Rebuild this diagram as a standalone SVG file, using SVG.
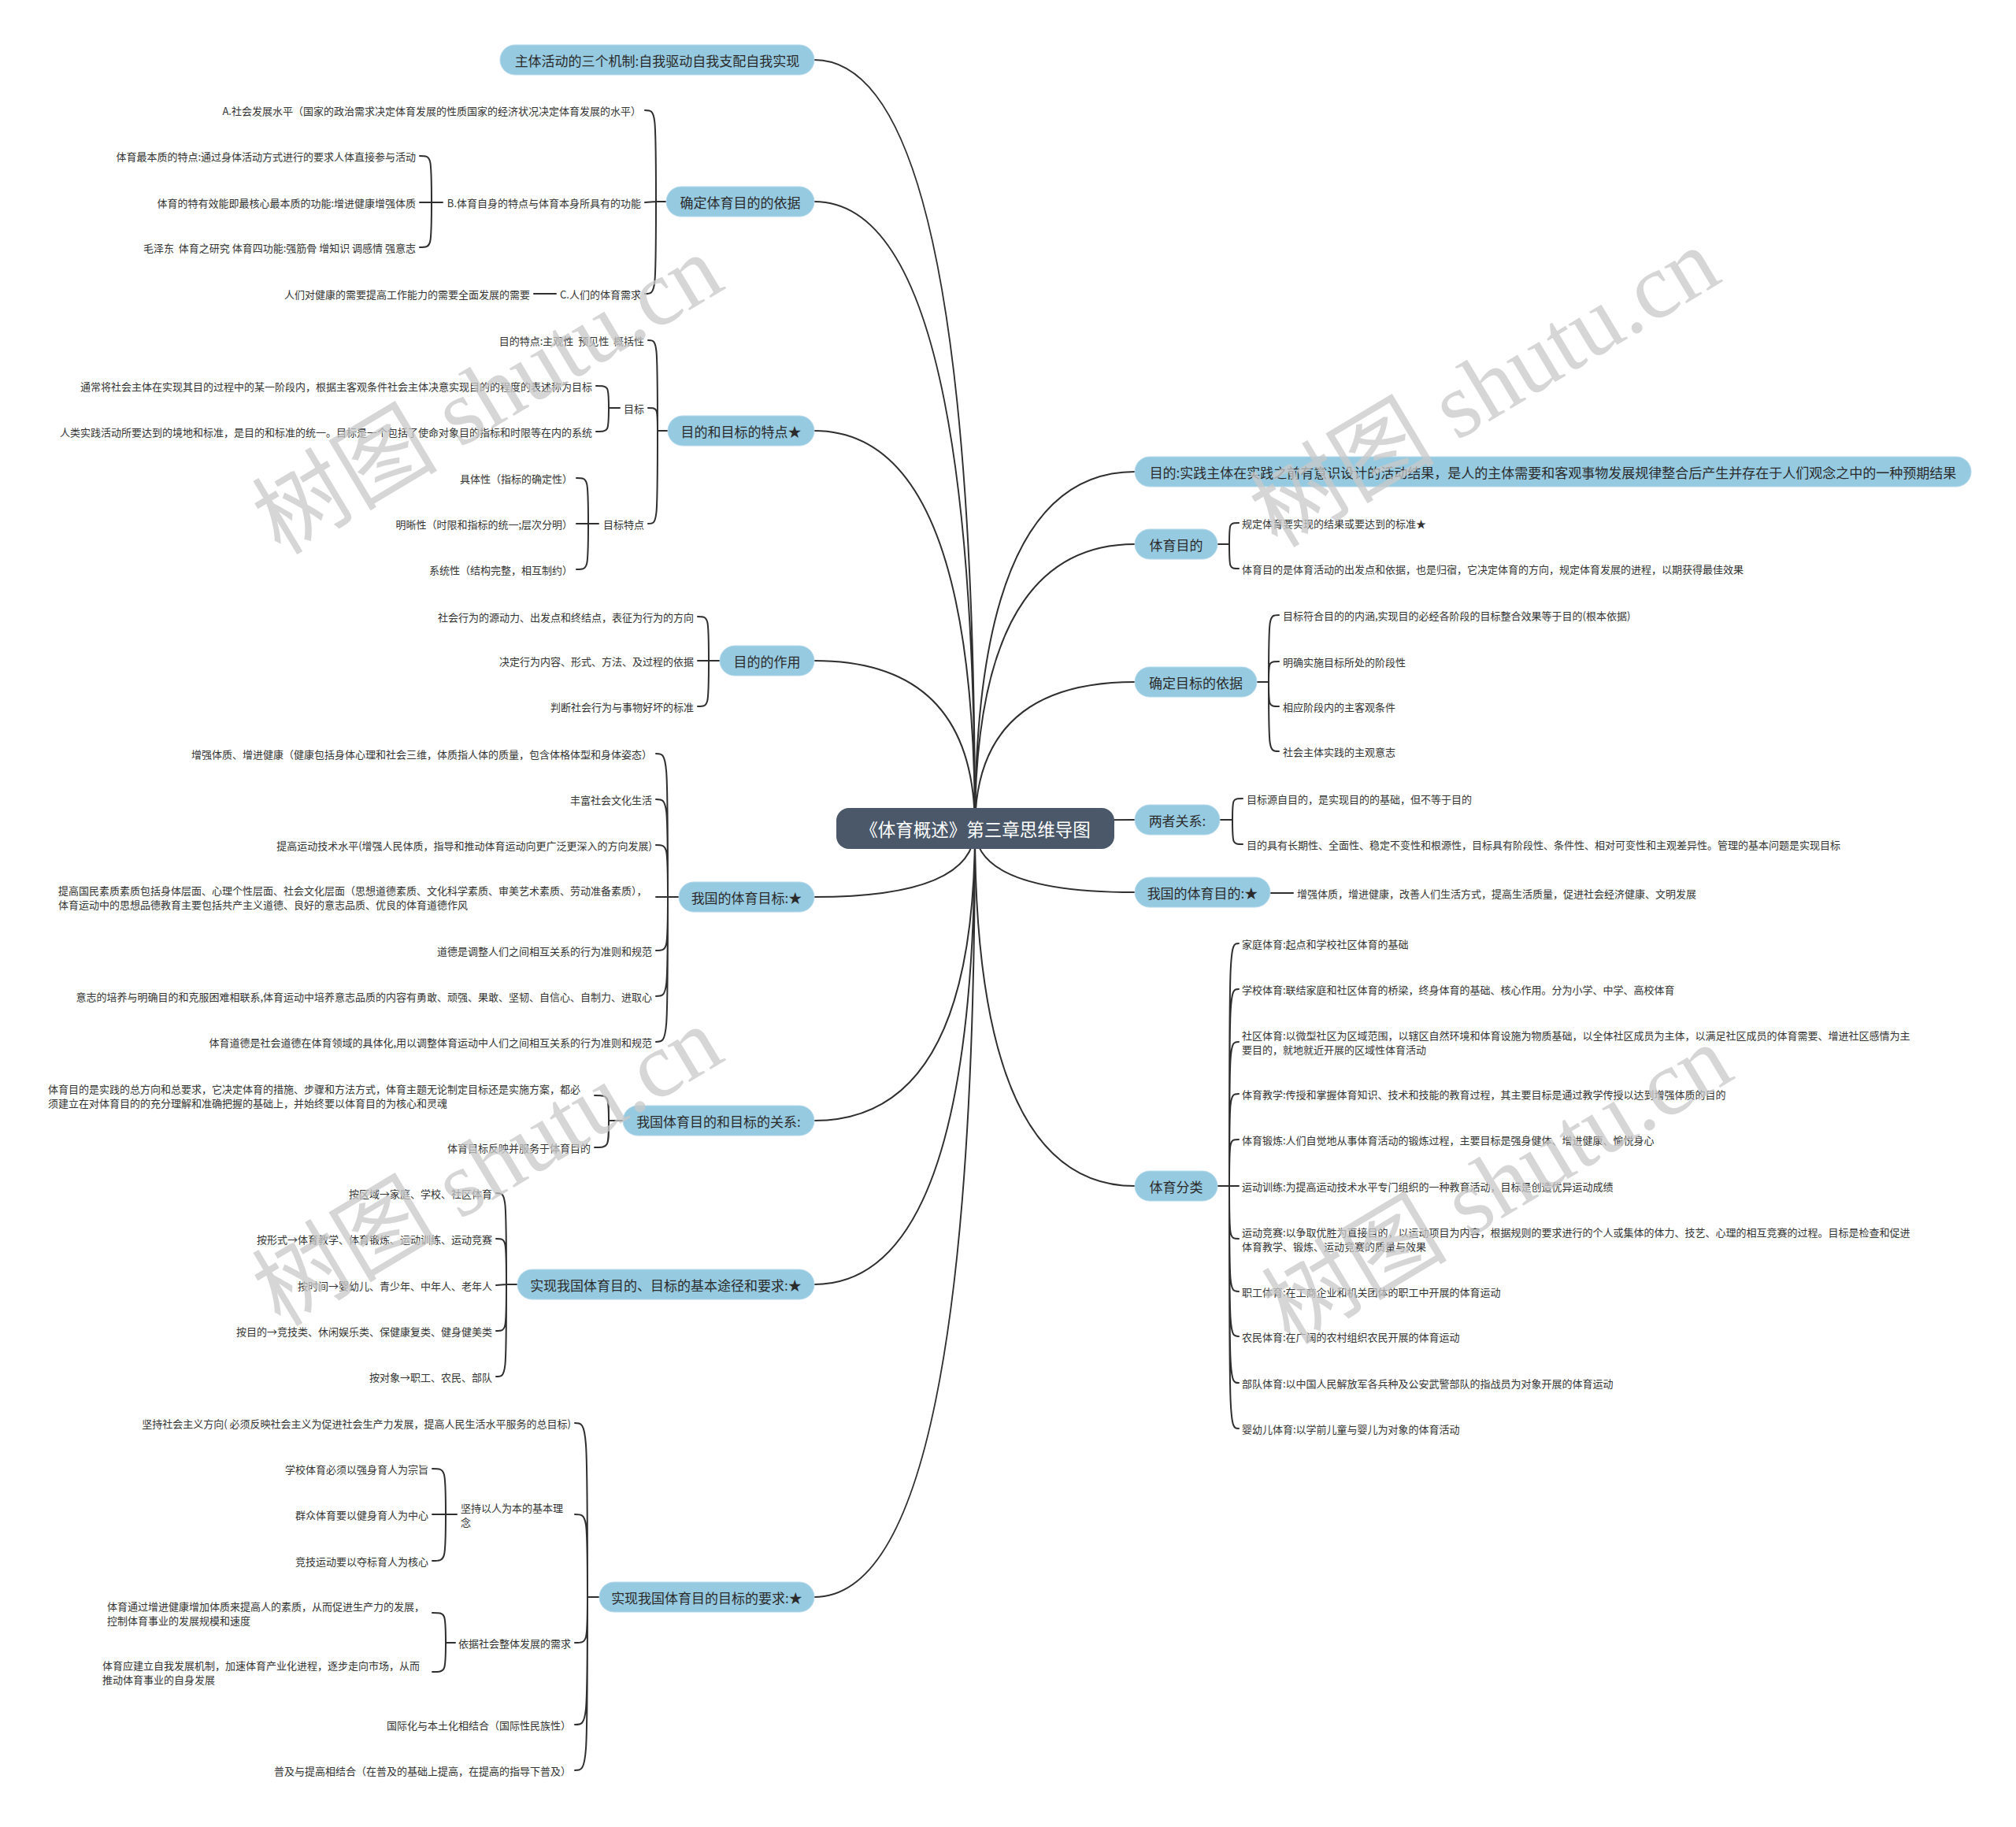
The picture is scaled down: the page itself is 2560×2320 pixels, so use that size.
<svg xmlns="http://www.w3.org/2000/svg" width="2560" height="2320" viewBox="0 0 2560 2320">
<style>
.c{fill:none;stroke:#2f2f2f;stroke-width:2;stroke-linecap:round}
.b rect{fill:#96cae1;stroke:#b3d9ea;stroke-width:1}
.b text{font-family:"Noto Sans CJK SC","Noto Sans",sans-serif;font-size:17px;fill:#2b2b2b;text-anchor:middle;dominant-baseline:central}
.r rect{fill:#4a5869}
.r text{font-family:"Noto Sans CJK SC","Noto Sans",sans-serif;font-size:22.5px;fill:#ffffff;text-anchor:middle;dominant-baseline:central}
.t{font-family:"Noto Sans CJK SC","Noto Sans",sans-serif;font-size:13px;fill:#333333;dominant-baseline:central}
.e{text-anchor:end}
.wm{font-family:"Liberation Serif","Noto Sans CJK SC",serif;font-size:118px;fill:#c9c9c9;opacity:.75}
</style>
<rect width="2560" height="2320" fill="#ffffff"/>
<g id="connectors">
<path class="c" d="M1238 1052Q1238 76 1034 76M1238 1052Q1238 256 1034 256M1238 1052Q1238 547 1034 547M1238 1052Q1238 839 1034 839M1238 1052Q1238 1139 1034 1139M1238 1052Q1238 1423 1034 1423M1238 1052Q1238 1631 1034 1631M1238 1052Q1238 2028 1034 2028"/>
<path class="c" d="M1238 1052Q1238 599 1441 599M1238 1052Q1238 691 1441 691M1238 1052Q1238 866 1441 866M1238 1052Q1238 1041 1441 1041M1238 1052Q1238 1133 1441 1133M1238 1052Q1238 1506 1441 1506"/>
<path class="c" d="M846 256H833M833 256C833 140 833 140 819 140M833 256L819 257M833 256C833 373 833 373 819 373"/>
<path class="c" d="M562 257H548M548 257C548 198 548 198 533 198M548 257H533M548 257C548 314 548 314 533 314M706 373H678"/>
<path class="c" d="M848 547H835M835 547C835 432 835 432 823 432M835 547C835 518 835 518 823 518M835 547C835 665 835 665 823 665"/>
<path class="c" d="M787 518H773M773 518C773 490 773 490 757 490M773 518C773 548 773 548 757 548"/>
<path class="c" d="M760 665H747M747 665C747 607 747 607 732 607M747 665H732M747 665C747 723 747 723 732 723"/>
<path class="c" d="M914 839H900M900 839C900 783 900 783 886 783M900 839H886M900 839C900 897 900 897 886 897"/>
<path class="c" d="M862 1139H848M848 1139C848 957 848 957 833 957M848 1139C848 1015 848 1015 833 1015M848 1139C848 1073 848 1073 833 1073M848 1139H833M848 1139C848 1207 848 1207 833 1207M848 1139C848 1265 848 1265 833 1265M848 1139C848 1323 848 1323 833 1323"/>
<path class="c" d="M791 1423H773M773 1423C773 1391 773 1391 755 1391M773 1423C773 1457 773 1457 755 1457"/>
<path class="c" d="M657 1631H643M643 1631C643 1515 643 1515 630 1515M643 1631C643 1573 643 1573 630 1573M643 1631L630 1632M643 1631C643 1690 643 1690 630 1690M643 1631C643 1748 643 1748 630 1748"/>
<path class="c" d="M761 2028H746M746 2028C746 1807 746 1807 730 1807M746 2028C746 1923 746 1923 730 1923M746 2028C746 2086 746 2086 730 2086M746 2028C746 2190 746 2190 730 2190M746 2028C746 2248 746 2248 730 2248"/>
<path class="c" d="M580 1923H566M566 1923C566 1865 566 1865 549 1865M566 1923H549M566 1923C566 1982 566 1982 549 1982"/>
<path class="c" d="M578 2086H566M566 2086C566 2048 566 2048 549 2048M566 2086C566 2123 566 2123 549 2123"/>
<path class="c" d="M1546 691H1561M1561 691C1561 664 1561 664 1573 664M1561 691C1561 722 1561 722 1573 722"/>
<path class="c" d="M1596 866H1611M1611 866C1611 781 1611 781 1624 781M1611 866C1611 840 1611 840 1624 840M1611 866C1611 897 1611 897 1624 897M1611 866C1611 954 1611 954 1624 954"/>
<path class="c" d="M1549 1041H1565M1565 1041C1565 1014 1565 1014 1578 1014M1565 1041C1565 1072 1565 1072 1578 1072"/>
<path class="c" d="M1613 1134H1642"/>
<path class="c" d="M1546 1506H1561M1561 1506C1561 1198 1561 1198 1573 1198M1561 1506C1561 1256 1561 1256 1573 1256M1561 1506C1561 1323 1561 1323 1573 1323M1561 1506C1561 1389 1561 1389 1573 1389M1561 1506C1561 1447 1561 1447 1573 1447M1561 1506H1573M1561 1506C1561 1573 1561 1573 1573 1573M1561 1506C1561 1640 1561 1640 1573 1640M1561 1506C1561 1697 1561 1697 1573 1697M1561 1506C1561 1756 1561 1756 1573 1756M1561 1506C1561 1814 1561 1814 1573 1814"/>
</g>
<g id="root" class="r"><rect x="1062" y="1026" width="353" height="52" rx="16"/><text x="1238.5" y="1052">《体育概述》第三章思维导图</text></g>
<g id="n-l1" class="b"><rect x="635" y="57" width="399" height="38" rx="19"/><text x="834.5" y="76">主体活动的三个机制:自我驱动自我支配自我实现</text></g>
<g id="n-l2" class="b"><rect x="846" y="237" width="188" height="38" rx="19"/><text x="940" y="256">确定体育目的的依据</text></g>
<g id="n-l3" class="b"><rect x="848" y="528" width="186" height="38" rx="19"/><text x="941" y="547">目的和目标的特点★</text></g>
<g id="n-l4" class="b"><rect x="914" y="820" width="120" height="38" rx="19"/><text x="974" y="839">目的的作用</text></g>
<g id="n-l5" class="b"><rect x="862" y="1120" width="172" height="38" rx="19"/><text x="948" y="1139">我国的体育目标:★</text></g>
<g id="n-l6" class="b"><rect x="791" y="1404" width="243" height="38" rx="19"/><text x="912.5" y="1423">我国体育目的和目标的关系:</text></g>
<g id="n-l7" class="b"><rect x="657" y="1612" width="377" height="38" rx="19"/><text x="845.5" y="1631">实现我国体育目的、目标的基本途径和要求:★</text></g>
<g id="n-l8" class="b"><rect x="761" y="2009" width="273" height="38" rx="19"/><text x="897.5" y="2028">实现我国体育目的目标的要求:★</text></g>
<g id="n-r1" class="b"><rect x="1441" y="580" width="1062" height="38" rx="19"/><text x="1972" y="599">目的:实践主体在实践之前有意识设计的活动结果，是人的主体需要和客观事物发展规律整合后产生并存在于人们观念之中的一种预期结果</text></g>
<g id="n-r2" class="b"><rect x="1441" y="672" width="105" height="38" rx="19"/><text x="1493.5" y="691">体育目的</text></g>
<g id="n-r3" class="b"><rect x="1441" y="847" width="155" height="38" rx="19"/><text x="1518.5" y="866">确定目标的依据</text></g>
<g id="n-r4" class="b"><rect x="1441" y="1022" width="108" height="38" rx="19"/><text x="1495" y="1041">两者关系:</text></g>
<g id="n-r5" class="b"><rect x="1441" y="1114" width="172" height="38" rx="19"/><text x="1527" y="1133">我国的体育目的:★</text></g>
<g id="n-r6" class="b"><rect x="1441" y="1487" width="105" height="38" rx="19"/><text x="1493.5" y="1506">体育分类</text></g>
<g id="t-l2a"><text class="t e" x="814" y="140">A.社会发展水平（国家的政治需求决定体育发展的性质国家的经济状况决定体育发展的水平）</text></g>
<g id="t-l2b"><text class="t e" x="814" y="257">B.体育自身的特点与体育本身所具有的功能</text></g>
<g id="t-l2b1"><text class="t e" x="528" y="198">体育最本质的特点:通过身体活动方式进行的要求人体直接参与活动</text></g>
<g id="t-l2b2"><text class="t e" x="528" y="257">体育的特有效能即最核心最本质的功能:增进健康增强体质</text></g>
<g id="t-l2b3"><text class="t e" x="528" y="314" xml:space="preserve">毛泽东  体育之研究 体育四功能:强筋骨 增知识 调感情 强意志</text></g>
<g id="t-l2c"><text class="t e" x="814" y="373">C.人们的体育需求</text></g>
<g id="t-l2c1"><text class="t e" x="673" y="373">人们对健康的需要提高工作能力的需要全面发展的需要</text></g>
<g id="t-l3a"><text class="t e" x="818" y="432" xml:space="preserve">目的特点:主观性  预见性  概括性</text></g>
<g id="t-l3b"><text class="t e" x="818" y="518">目标</text></g>
<g id="t-l3b1"><text class="t e" x="752" y="490">通常将社会主体在实现其目的过程中的某一阶段内，根据主客观条件社会主体决意实现目的的程度的表述称为目标</text></g>
<g id="t-l3b2"><text class="t e" x="752" y="548">人类实践活动所要达到的境地和标准，是目的和标准的统一。目标是一个包括了使命对象目的指标和时限等在内的系统</text></g>
<g id="t-l3c"><text class="t e" x="818" y="665">目标特点</text></g>
<g id="t-l3c1"><text class="t e" x="727" y="607">具体性（指标的确定性）</text></g>
<g id="t-l3c2"><text class="t e" x="727" y="665">明晰性（时限和指标的统一;层次分明）</text></g>
<g id="t-l3c3"><text class="t e" x="727" y="723">系统性（结构完整，相互制约）</text></g>
<g id="t-l4a"><text class="t e" x="881" y="783">社会行为的源动力、出发点和终结点，表征为行为的方向</text></g>
<g id="t-l4b"><text class="t e" x="881" y="839">决定行为内容、形式、方法、及过程的依据</text></g>
<g id="t-l4c"><text class="t e" x="881" y="897">判断社会行为与事物好坏的标准</text></g>
<g id="t-l5a"><text class="t e" x="828" y="957">增强体质、增进健康（健康包括身体心理和社会三维，体质指人体的质量，包含体格体型和身体姿态）</text></g>
<g id="t-l5b"><text class="t e" x="828" y="1015">丰富社会文化生活</text></g>
<g id="t-l5c"><text class="t e" x="828" y="1073">提高运动技术水平(增强人民体质，指导和推动体育运动向更广泛更深入的方向发展)</text></g>
<g id="t-l5d"><text class="t" x="74" y="1130">提高国民素质素质包括身体层面、心理个性层面、社会文化层面（思想道德素质、文化科学素质、审美艺术素质、劳动准备素质），</text><text class="t" x="74" y="1148">体育运动中的思想品德教育主要包括共产主义道德、良好的意志品质、优良的体育道德作风</text></g>
<g id="t-l5e"><text class="t e" x="828" y="1207">道德是调整人们之间相互关系的行为准则和规范</text></g>
<g id="t-l5f"><text class="t e" x="828" y="1265">意志的培养与明确目的和克服困难相联系,体育运动中培养意志品质的内容有勇敢、顽强、果敢、坚韧、自信心、自制力、进取心</text></g>
<g id="t-l5g"><text class="t e" x="828" y="1323">体育道德是社会道德在体育领域的具体化,用以调整体育运动中人们之间相互关系的行为准则和规范</text></g>
<g id="t-l6a"><text class="t" x="61" y="1382">体育目的是实践的总方向和总要求，它决定体育的措施、步骤和方法方式，体育主题无论制定目标还是实施方案，都必</text><text class="t" x="61" y="1400">须建立在对体育目的的充分理解和准确把握的基础上，并始终要以体育目的为核心和灵魂</text></g>
<g id="t-l6b"><text class="t e" x="750" y="1457">体育目标反映并服务于体育目的</text></g>
<g id="t-l7a"><text class="t e" x="625" y="1515">按区域→家庭、学校、社区体育</text></g>
<g id="t-l7b"><text class="t e" x="625" y="1573">按形式→体育教学、体育锻炼、运动训练、运动竞赛</text></g>
<g id="t-l7c"><text class="t e" x="625" y="1632">按时间→婴幼儿、青少年、中年人、老年人</text></g>
<g id="t-l7d"><text class="t e" x="625" y="1690">按目的→竞技类、休闲娱乐类、保健康复类、健身健美类</text></g>
<g id="t-l7e"><text class="t e" x="625" y="1748">按对象→职工、农民、部队</text></g>
<g id="t-l8a"><text class="t e" x="725" y="1807">坚持社会主义方向( 必须反映社会主义为促进社会生产力发展，提高人民生活水平服务的总目标)</text></g>
<g id="t-l8b"><text class="t" x="585" y="1914">坚持以人为本的基本理</text><text class="t" x="585" y="1932">念</text></g>
<g id="t-l8b1"><text class="t e" x="544" y="1865">学校体育必须以强身育人为宗旨</text></g>
<g id="t-l8b2"><text class="t e" x="544" y="1923">群众体育要以健身育人为中心</text></g>
<g id="t-l8b3"><text class="t e" x="544" y="1982">竞技运动要以夺标育人为核心</text></g>
<g id="t-l8c"><text class="t e" x="725" y="2086">依据社会整体发展的需求</text></g>
<g id="t-l8c1"><text class="t" x="136" y="2039">体育通过增进健康增加体质来提高人的素质，从而促进生产力的发展，</text><text class="t" x="136" y="2057">控制体育事业的发展规模和速度</text></g>
<g id="t-l8c2"><text class="t" x="130" y="2114">体育应建立自我发展机制，加速体育产业化进程，逐步走向市场，从而</text><text class="t" x="130" y="2132">推动体育事业的自身发展</text></g>
<g id="t-l8d"><text class="t e" x="725" y="2190">国际化与本土化相结合（国际性民族性）</text></g>
<g id="t-l8e"><text class="t e" x="725" y="2248">普及与提高相结合（在普及的基础上提高，在提高的指导下普及）</text></g>
<g id="t-r2a"><text class="t" x="1577" y="664">规定体育要实现的结果或要达到的标准★</text></g>
<g id="t-r2b"><text class="t" x="1577" y="722">体育目的是体育活动的出发点和依据，也是归宿，它决定体育的方向，规定体育发展的进程，以期获得最佳效果</text></g>
<g id="t-r3a"><text class="t" x="1629" y="781">目标符合目的的内涵,实现目的必经各阶段的目标整合效果等于目的(根本依据)</text></g>
<g id="t-r3b"><text class="t" x="1629" y="840">明确实施目标所处的阶段性</text></g>
<g id="t-r3c"><text class="t" x="1629" y="897">相应阶段内的主客观条件</text></g>
<g id="t-r3d"><text class="t" x="1629" y="954">社会主体实践的主观意志</text></g>
<g id="t-r4a"><text class="t" x="1583" y="1014">目标源自目的，是实现目的的基础，但不等于目的</text></g>
<g id="t-r4b"><text class="t" x="1583" y="1072">目的具有长期性、全面性、稳定不变性和根源性，目标具有阶段性、条件性、相对可变性和主观差异性。管理的基本问题是实现目标</text></g>
<g id="t-r5a"><text class="t" x="1647" y="1134">增强体质，增进健康，改善人们生活方式，提高生活质量，促进社会经济健康、文明发展</text></g>
<g id="t-r6a"><text class="t" x="1577" y="1198">家庭体育:起点和学校社区体育的基础</text></g>
<g id="t-r6b"><text class="t" x="1577" y="1256">学校体育:联结家庭和社区体育的桥梁，终身体育的基础、核心作用。分为小学、中学、高校体育</text></g>
<g id="t-r6c"><text class="t" x="1577" y="1314">社区体育:以微型社区为区域范围，以辖区自然环境和体育设施为物质基础，以全体社区成员为主体，以满足社区成员的体育需要、增进社区感情为主</text><text class="t" x="1577" y="1332">要目的，就地就近开展的区域性体育活动</text></g>
<g id="t-r6d"><text class="t" x="1577" y="1389">体育教学:传授和掌握体育知识、技术和技能的教育过程，其主要目标是通过教学传授以达到增强体质的目的</text></g>
<g id="t-r6e"><text class="t" x="1577" y="1447">体育锻炼:人们自觉地从事体育活动的锻炼过程，主要目标是强身健体、增进健康、愉悦身心</text></g>
<g id="t-r6f"><text class="t" x="1577" y="1506">运动训练:为提高运动技术水平专门组织的一种教育活动，目标是创造优异运动成绩</text></g>
<g id="t-r6g"><text class="t" x="1577" y="1564">运动竞赛:以争取优胜为直接目的，以运动项目为内容，根据规则的要求进行的个人或集体的体力、技艺、心理的相互竞赛的过程。目标是检查和促进</text><text class="t" x="1577" y="1582">体育教学、锻炼、运动竞赛的质量与效果</text></g>
<g id="t-r6h"><text class="t" x="1577" y="1640">职工体育:在工商企业和机关团体的职工中开展的体育运动</text></g>
<g id="t-r6i"><text class="t" x="1577" y="1697">农民体育:在广阔的农村组织农民开展的体育运动</text></g>
<g id="t-r6j"><text class="t" x="1577" y="1756">部队体育:以中国人民解放军各兵种及公安武警部队的指战员为对象开展的体育运动</text></g>
<g id="t-r6k"><text class="t" x="1577" y="1814">婴幼儿体育:以学前儿童与婴儿为对象的体育活动</text></g>
<g id="watermarks">
<text class="wm" transform="translate(356 706) rotate(-31)">树图 shutu.cn</text>
<text class="wm" transform="translate(1622 697) rotate(-31)">树图 shutu.cn</text>
<text class="wm" transform="translate(356 1686) rotate(-31)">树图 shutu.cn</text>
<text class="wm" transform="translate(1638 1709) rotate(-31)">树图 shutu.cn</text>
</g>
</svg>
